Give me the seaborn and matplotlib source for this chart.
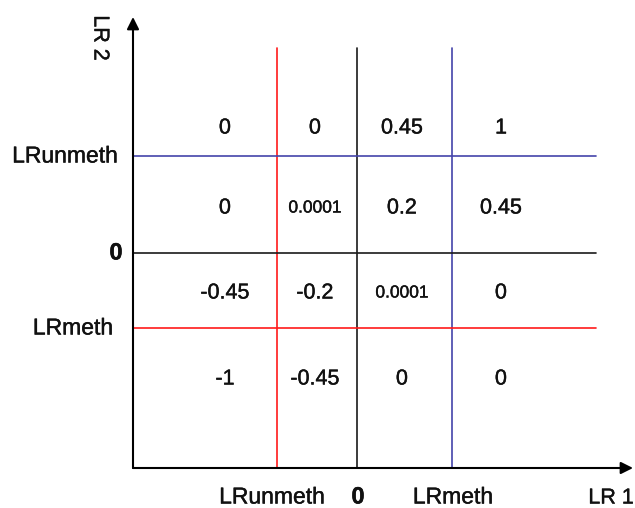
import matplotlib
matplotlib.use("Agg")
import matplotlib.pyplot as plt
import matplotlib.patheffects as pe
import seaborn as sns

# threshold lines (x along LR 1, y along LR 2), units measured from the axes corner
x_names = ["LRunmeth", "0", "LRmeth"]
x_pos = [144, 224, 319]
x_colors = ["#ff1a1a", "#1a1a1a", "#4444aa"]

y_names = ["LRunmeth", "0", "LRmeth"]
y_pos = [312, 215, 140]
y_colors = ["#4444aa", "#1a1a1a", "#ff1a1a"]

# cell values, top row first, left column first
cell_values = [
    ["0", "0", "0.45", "1"],
    ["0", "0.0001", "0.2", "0.45"],
    ["-0.45", "-0.2", "0.0001", "0"],
    ["-1", "-0.45", "0", "0"],
]

# layout
col_centers = [92, 182, 269, 368]
row_centers = [340, 260, 175, 89]
line_top = 420
line_right = 463
axis_x_end = 500
axis_y_end = 451

sns.set_style("white")
plt.rcParams["font.family"] = ["Liberation Sans", "DejaVu Sans"]

fig = plt.figure(figsize=(6.35, 5.08), dpi=100)
ax = fig.add_axes([0, 0, 1, 1])
ax.set_xlim(-133, 502)
ax.set_ylim(-40, 468)
ax.axis("off")

heavy = [pe.withStroke(linewidth=0.3, foreground="#111111")]

# vertical threshold lines
for xp, c in zip(x_pos, x_colors):
    sns.lineplot(x=[xp, xp], y=[0, line_top], color=c, lw=1.2,
                 sort=False, estimator=None, ax=ax)
# horizontal threshold lines
for yp, c in zip(y_pos, y_colors):
    sns.lineplot(x=[0, line_right], y=[yp, yp], color=c, lw=1.2,
                 sort=False, estimator=None, ax=ax)

# axes with arrows
ax.annotate("", xy=(axis_x_end, 0), xytext=(0, 0),
            arrowprops=dict(arrowstyle="-|>", color="black", lw=1.5,
                            mutation_scale=18, shrinkA=0, shrinkB=0))
ax.annotate("", xy=(0, axis_y_end), xytext=(0, 0),
            arrowprops=dict(arrowstyle="-|>", color="black", lw=1.5,
                            mutation_scale=18, shrinkA=0, shrinkB=0))

# cell numbers
for r, row in enumerate(cell_values):
    for c, val in enumerate(row):
        size = 12.5 if val == "0.0001" else 15.5
        ax.text(col_centers[c], row_centers[r], val, ha="center", va="center",
                fontsize=size, color="#111111", path_effects=heavy)

# tick-like labels
x_offsets = [-5, 1, 1]
for name, xp, dx in zip(x_names, x_pos, x_offsets):
    bold = name == "0"
    ax.text(xp + dx, -29, name, ha="center", va="center",
            fontsize=17 if bold else 16.5,
            fontweight="bold" if bold else "normal", color="#111111",
            path_effects=heavy)

y_label_x = [-68, -17, -60]
for name, yp, xl in zip(y_names, y_pos, y_label_x):
    bold = name == "0"
    ax.text(xl, yp, name, ha="center", va="center",
            fontsize=17 if bold else 16.5,
            fontweight="bold" if bold else "normal", color="#111111",
            path_effects=heavy)

ax.text(478, -30, "LR 1", ha="center", va="center", fontsize=15.5,
        color="#111111", path_effects=heavy)
ax.text(-33, 430, "LR 2", ha="center", va="center", fontsize=15.5,
        rotation=-90, color="#111111", path_effects=heavy)

fig.savefig("out.png", dpi=100, facecolor="white")
